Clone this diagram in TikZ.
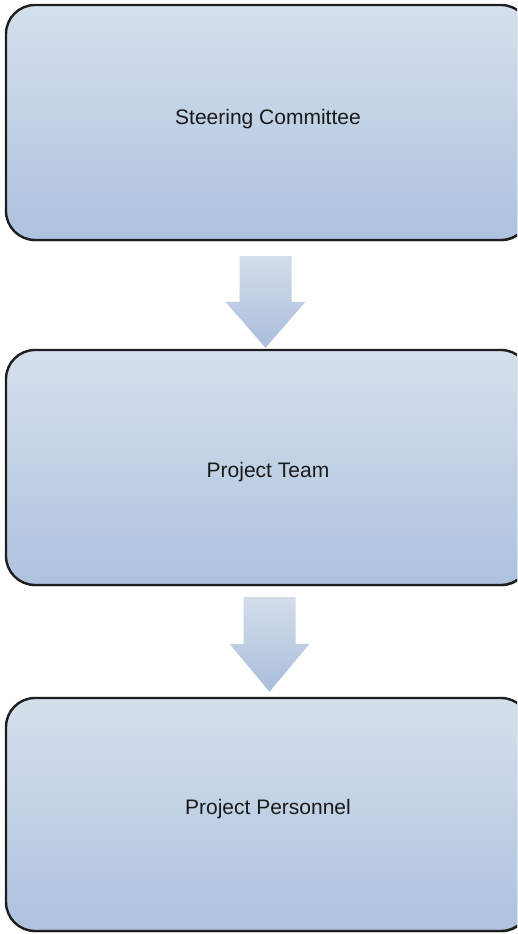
\documentclass[tikz,border=0pt]{standalone}
\usepackage{fontspec}
\setmainfont{Liberation Sans}
\usetikzlibrary{calc,shadows}
\definecolor{boxtop}{HTML}{D5E0EC}
\definecolor{boxbot}{HTML}{ADC2DE}
\definecolor{arrtop}{HTML}{D3DDEA}
\definecolor{arrbot}{HTML}{A9BEDB}
\definecolor{edge}{HTML}{1E1E1E}
\definecolor{ink}{HTML}{1A1A1A}
% block arrow between two stacked nodes:
% #1 upper node, #2 lower node, #3 x offset, #4 gap below upper, #5 gap above lower, #6 head length
\newcommand{\blockarrow}[6]{%
  \path[arrowfill] let \p1=(#1.south), \p2=(#2.north) in
    (\x1+#3-26,\y1-#4) -- (\x1+#3+26,\y1-#4) -- (\x1+#3+26,\y2+#5+#6)
    -- (\x1+#3+40,\y2+#5+#6) -- (\x1+#3,\y2+#5) -- (\x1+#3-40,\y2+#5+#6)
    -- (\x1+#3-26,\y2+#5+#6) -- cycle;}
% label text shifted vertically without changing the node's size
\newcommand{\liftlabel}[2]{\raisebox{#1}[\height][\depth]{#2}}
\begin{document}
\begin{tikzpicture}[x=1pt,y=1pt,
  stagebox/.style={draw=edge, line width=2.4pt, rounded corners=29pt,
    top color=boxtop, bottom color=boxbot, minimum width=524pt,
    text=ink, font=\fontsize{21}{25}\selectfont,
    drop shadow={shadow xshift=0.8pt, shadow yshift=-1.2pt, fill=edge, opacity=0.9}},
  arrowfill/.style={top color=arrtop, bottom color=arrbot, draw=none}]
\useasboundingbox (0,0) rectangle (517,934);
\clip (0,0) rectangle (517,934);
\fill[white] (0,0) rectangle (517,934);

\node[stagebox, minimum height=235pt] (steer) at (268,811.5) {\liftlabel{3pt}{Steering Committee}};
\node[stagebox, minimum height=235pt] (team) at (268,466.5) {\liftlabel{-5pt}{Project Team}};
\node[stagebox, minimum height=233pt] (staff) at (268,119.5) {\liftlabel{5pt}{Project Personnel}};

\blockarrow{steer}{team}{-2.5}{15}{1}{46}
\blockarrow{team}{staff}{1.5}{11}{5}{48}
\end{tikzpicture}
\end{document}
